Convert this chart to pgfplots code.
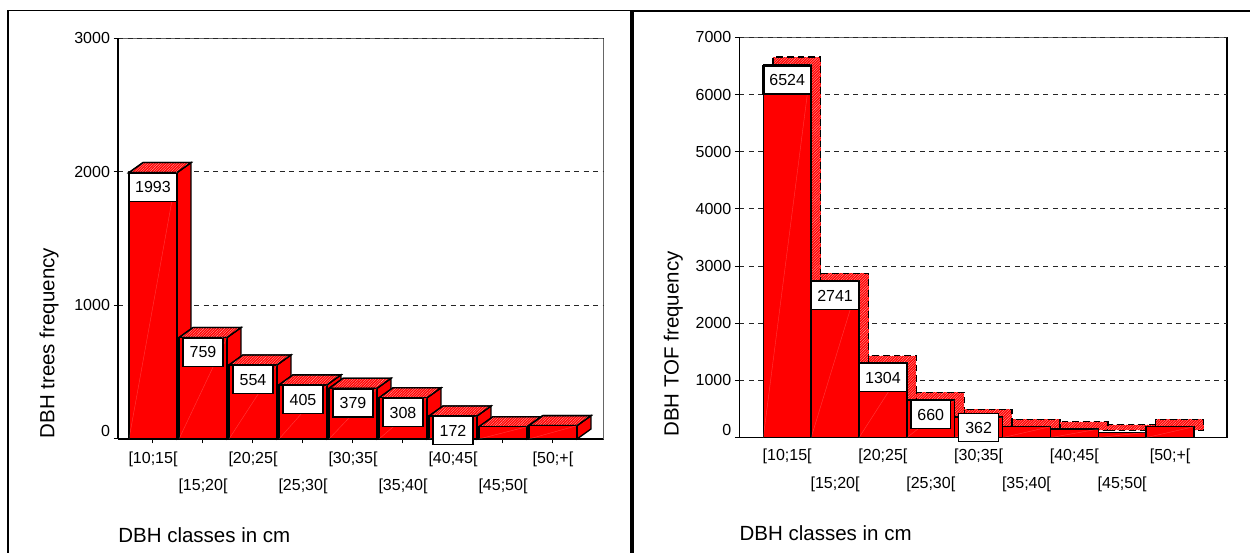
\documentclass[border=0pt]{standalone}
\usepackage{fontspec}
\setmainfont{Liberation Sans}
\usepackage{pgfplots}
\pgfplotsset{compat=1.18}
\usetikzlibrary{patterns.meta}

% 1 px of the reference = 0.6pt
\pgfplotsset{
  panel/.style={
    scale only axis, clip=false, axis lines*=left, axis line style={-, line width=0.8pt},
    tick align=outside, major tick length=2.7pt, tick style={black, line width=0.6pt},
    ymajorgrids, grid style={black!85, line width=0.55pt, dash pattern=on 3pt off 2.7pt},
    ymin=0, xtick={0,...,8},
    xticklabels={{[10;15[},{[15;20[},{[20;25[},{[25;30[},{[30;35[},{[35;40[},{[40;45[},{[45;50[},{[50;+[}},
    /pgf/number format/assume math mode=true, /pgf/number format/1000 sep={},
    tick label style={font=\fontsize{9.6}{11}\selectfont},
    y tick label style={xshift=1.4pt, yshift={ifthenelse(\ticknum==0,4.6,0)*1pt}},
    xlabel={DBH classes in cm},
    label style={font=\fontsize{12.3}{14}\selectfont},
  },
  front/.style={draw=black, line width=0.8pt, fill=red},
  side/.style={draw=black, line width=0.8pt, fill=red},
  hatched/.style={draw=black, line width=0.8pt, fill=red,
    postaction={pattern={Lines[angle=45,distance=1.1pt,line width=0.22pt]}, pattern color=red!35!white}},
  back/.style={draw=black, line width=0.8pt, dash pattern=on 4pt off 2.4pt, fill=red,
    postaction={pattern={Lines[angle=45,distance=1.1pt,line width=0.22pt]}, pattern color=red!35!white}},
  crease/.style={white, opacity=0.22, line width=0.25pt},
  labelcrease/.style={red!35!white, line width=0.25pt},
}

% left panel bar: side, top, front
\newcommand\solidbar[2]{%
  \pgfmathsetmacro\xa{#1-\hw}\pgfmathsetmacro\xb{#1+\hw}%
  \pgfmathsetmacro\xc{\xb+\dX}\pgfmathsetmacro\xd{\xa+\dX}\pgfmathsetmacro\yt{#2+\dY}%
  \edef\tmp{%
    \noexpand\addplot[side] coordinates {(\xb,0)(\xc,\dY)(\xc,\yt)(\xb,#2)} --cycle;
    \noexpand\addplot[hatched] coordinates {(\xa,#2)(\xd,\yt)(\xc,\yt)(\xb,#2)} --cycle;
    \noexpand\addplot[front] coordinates {(\xa,0)(\xb,0)(\xb,#2)(\xa,#2)} --cycle;
    \noexpand\addplot[crease] coordinates {(\xa,0)(\xb,#2)};
  }\tmp}
% right panel bar: hatched rectangle behind, front on it
\newcommand\shadowbar[2]{%
  \pgfmathsetmacro\xa{#1-\hw}\pgfmathsetmacro\xb{#1+\hw}%
  \pgfmathsetmacro\xc{\xb+\dX}\pgfmathsetmacro\xd{\xa+\dX}\pgfmathsetmacro\yt{#2+\dY}%
  \edef\tmp{%
    \noexpand\addplot[back] coordinates {(\xd,\dY)(\xc,\dY)(\xc,\yt)(\xd,\yt)} --cycle;
    \noexpand\addplot[front] coordinates {(\xa,0)(\xb,0)(\xb,#2)(\xa,#2)} --cycle;
    \noexpand\addplot[crease] coordinates {(\xa,0)(\xb,#2)};
  }\tmp}
% value box: x, value, half width (axis units), height (axis units), border, shift
\newcommand\valuebox[6]{%
  \pgfmathsetmacro\xa{#1-#3}\pgfmathsetmacro\xb{#1+#3}\pgfmathsetmacro\ya{#2-#4+(#6/\pxy)}\pgfmathsetmacro\yb{#2+(#6/\pxy)}%
  \pgfmathsetmacro\bw{2*#3*\pxx}%
  \edef\tmp{%
    \noexpand\addplot[draw=none, mark=none, nodes near coords,
      nodes near coords style={anchor=north, draw=black, fill=white, line width=#5, text=black,
        font=\noexpand\fontsize{9.6}{11}\noexpand\selectfont, inner sep=0pt,
        minimum height=16.8pt, minimum width=\bw pt, yshift=#6*0.6pt}]
      coordinates {(#1,#2)};
    \noexpand\addplot[labelcrease] coordinates {(\xa,\ya)(\xb,\yb)};
  }\tmp}

\begin{document}
\begin{tikzpicture}
\path[use as bounding box] (0,0) rectangle (750pt,331.8pt);

% thin top and right edges of the plot areas, under the grids
\draw[black!60, line width=0.5pt] (70.8pt,309pt) -- (361.8pt,309pt) -- (361.8pt,68.4pt);
\draw[black!60, line width=0.5pt] (443.6pt,309.4pt) -- (736.2pt,309.4pt);
\draw[black, line width=0.7pt] (736.2pt,69.2pt) -- (736.2pt,309.4pt);

\begin{axis}[panel, at={(70.8pt,68.4pt)}, width=291pt, height=240.6pt,
  xmin=-0.7, xmax=9, ymax=3000, ytick={0,1000,2000,3000},
  x tick label style={yshift={-1.5pt-mod(\ticknum,2)*16.4pt}},
  ylabel={DBH trees frequency},
  xlabel style={at={(axis description cs:0,0)}, anchor=west, yshift=-57.6pt, inner xsep=0pt},
  ylabel style={at={(axis description cs:0,0.239)}, anchor=center, yshift=41.4pt},
]
\def\hw{0.48}\def\dX{0.28}\def\dY{75}\def\pxx{30}\def\pxy{0.13367}
\solidbar{0}{1993}\solidbar{1}{759}\solidbar{2}{554}\solidbar{3}{405}\solidbar{4}{379}
\solidbar{5}{308}\solidbar{6}{172}\solidbar{7}{92}\solidbar{8}{100}
\valuebox{0}{1993}{0.48}{209}{0.8pt}{0}
\valuebox{1}{759}{0.40}{209}{0.8pt}{0}
\valuebox{2}{554}{0.40}{209}{0.8pt}{0}
\valuebox{3}{405}{0.40}{209}{0.8pt}{0}
\valuebox{4}{379}{0.40}{209}{0.8pt}{0}
\valuebox{5}{308}{0.40}{209}{0.8pt}{0}
\valuebox{6}{172}{0.40}{209}{0.8pt}{0}
\end{axis}

\begin{axis}[panel, at={(443.6pt,69.2pt)}, width=292.6pt, height=240.2pt,
  xmin=-1, xmax=9.19, ymax=7000, ytick={0,1000,...,7000}, xtick style={draw=none},
  x tick label style={yshift={-0.3pt-mod(\ticknum,2)*16.8pt}},
  ylabel={DBH TOF frequency},
  xlabel style={at={(axis description cs:0,0)}, anchor=west, yshift=-57.6pt, inner xsep=0pt},
  ylabel style={at={(axis description cs:0,0.234)}, anchor=center, yshift=39.6pt},
]
\def\hw{0.5}\def\dX{0.2}\def\dY{131}\def\pxx{28.7}\def\pxy{0.0572}
\shadowbar{0}{6524}\shadowbar{1}{2741}\shadowbar{2}{1304}\shadowbar{3}{660}\shadowbar{4}{362}
\shadowbar{5}{192}\shadowbar{6}{150}\shadowbar{7}{94}\shadowbar{8}{192}
\valuebox{0}{6524}{0.5}{490}{1.6pt}{0}
\valuebox{1}{2741}{0.5}{490}{0.8pt}{0}
\valuebox{2}{1304}{0.5}{490}{0.8pt}{0}
\valuebox{3}{660}{0.41}{490}{0.8pt}{0}
\valuebox{4}{362}{0.42}{490}{0.8pt}{4}
\end{axis}

% panel frames
\draw[line width=1.1pt] (5pt,0pt) -- (5pt,325.5pt) -- (378pt,325.5pt);
\draw[line width=2.2pt] (379.2pt,0pt) -- (379.2pt,326pt);
\draw[line width=1.2pt] (379pt,325pt) -- (750pt,325pt);
\end{tikzpicture}
\end{document}
